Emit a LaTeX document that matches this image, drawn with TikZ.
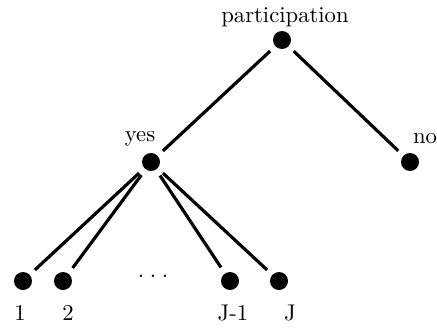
\documentclass[tikz,border=0pt]{standalone}
\usepackage{tikz}

\begin{document}
\begin{tikzpicture}[x=0.0155cm, y=-0.0155cm,
	dot/.style = {circle, fill = black, inner sep = 0pt, minimum size = 18*0.0155cm},
	branch/.style = {line width = 1.4pt, shorten >= 3pt, shorten <= 3pt}]
	\useasboundingbox (0,0) rectangle (437,330);
	\node [dot] (root) at (282,40) {};
	\node [dot] (yes) at (151,162) {};
	\node [dot] (no) at (410,162) {};
	\node [dot] (leafA) at (23,281) {};
	\node [dot] (leafB) at (63,281) {};
	\node [dot] (leafC) at (230,281) {};
	\node [dot] (leafD) at (279,281) {};
	\draw [branch] (root) -- (yes);
	\draw [branch] (root) -- (no);
	\draw [branch] (yes) -- (leafA);
	\draw [branch] (yes) -- (leafB);
	\draw [branch] (yes) -- (leafC);
	\draw [branch] (yes) -- (leafD);
	\node (ptext) at (285,17) {participation};
	\node (ytext) at (140,139) {yes};
	\node (ntext) at (425,139) {no};
	\node (dots) at (153,276) {.\hspace{2.5pt}.\hspace{2.5pt}.};
	\node (ltA) at (20,313) {1};
	\node (ltB) at (68,313) {2};
	\node (ltC) at (233,313) {J-1};
	\node (ltD) at (290,313) {J};
\end{tikzpicture}
\end{document}
